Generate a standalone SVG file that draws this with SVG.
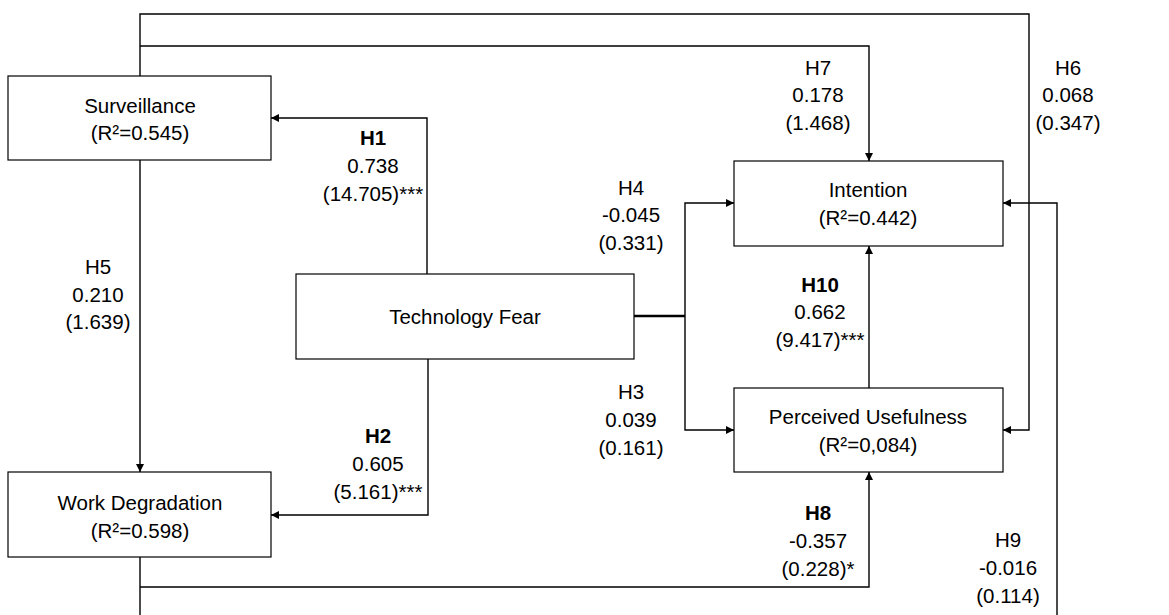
<svg xmlns="http://www.w3.org/2000/svg" width="1169" height="615" viewBox="0 0 1169 615">
<style>
.box{fill:#fff;stroke:#000;stroke-width:1.2}
.t{font-family:"Liberation Sans",Arial,sans-serif;font-size:20.5px;fill:#000;text-anchor:middle}
.b{font-weight:bold}
.c{fill:none;stroke:#000;stroke-width:1.4}
</style>
<defs>
<marker id="a" viewBox="0 0 10 10" refX="10" refY="5" markerWidth="8" markerHeight="8" markerUnits="userSpaceOnUse" orient="auto"><path d="M0,0 L10,5 L0,10 z" fill="#000"/></marker>
</defs>
<rect width="1169" height="615" fill="#fff"/>
<g id="connectors">
<path class="c" d="M140,76 V14 H1029 V430 H1003" marker-end="url(#a)"/>
<path class="c" d="M140,46 H869 V161" marker-end="url(#a)"/>
<path class="c" d="M427,274 V118 H271" marker-end="url(#a)"/>
<path class="c" d="M428,359 V515 H271" marker-end="url(#a)"/>
<path class="c" d="M140,160 V472" marker-end="url(#a)"/>
<path class="c" d="M634,316 H685" style="stroke-width:2.5"/>
<path class="c" d="M685,316 V203 H734" marker-end="url(#a)"/>
<path class="c" d="M685,316 V430 H734" marker-end="url(#a)"/>
<path class="c" d="M869,388 V246" marker-end="url(#a)"/>
<path class="c" d="M140,557 V615"/>
<path class="c" d="M140,587 H869 V472" marker-end="url(#a)"/>
<path class="c" d="M1057,615 V203 H1003" marker-end="url(#a)"/>
</g>
<g id="surveillance">
<rect class="box" x="8" y="76" width="263" height="84"/>
<text class="t" x="140" y="113">Surveillance</text>
<text class="t" x="140" y="140">(R²=0.545)</text>
</g>
<g id="work-degradation">
<rect class="box" x="8" y="472" width="263" height="85"/>
<text class="t" x="140" y="510">Work Degradation</text>
<text class="t" x="140" y="538">(R²=0.598)</text>
</g>
<g id="technology-fear">
<rect class="box" x="296" y="274" width="338" height="85"/>
<text class="t" x="465" y="324">Technology Fear</text>
</g>
<g id="intention">
<rect class="box" x="734" y="161" width="269" height="85"/>
<text class="t" x="868" y="197">Intention</text>
<text class="t" x="868" y="225">(R²=0.442)</text>
</g>
<g id="perceived-usefulness">
<rect class="box" x="734" y="388" width="269" height="84"/>
<text class="t" x="868" y="424">Perceived Usefulness</text>
<text class="t" x="868" y="452">(R²=0,084)</text>
</g>
<g id="labels">
<text class="t b" x="373" y="145">H1</text>
<text class="t" x="373" y="173">0.738</text>
<text class="t" x="373" y="201">(14.705)***</text>
<text class="t b" x="378" y="443">H2</text>
<text class="t" x="378" y="471">0.605</text>
<text class="t" x="378" y="499">(5.161)***</text>
<text class="t" x="631" y="399">H3</text>
<text class="t" x="631" y="427">0.039</text>
<text class="t" x="631" y="455">(0.161)</text>
<text class="t" x="631" y="195">H4</text>
<text class="t" x="631" y="222">-0.045</text>
<text class="t" x="631" y="250">(0.331)</text>
<text class="t" x="98" y="274">H5</text>
<text class="t" x="98" y="302">0.210</text>
<text class="t" x="98" y="329">(1.639)</text>
<text class="t" x="1068" y="75">H6</text>
<text class="t" x="1068" y="102">0.068</text>
<text class="t" x="1068" y="130">(0.347)</text>
<text class="t" x="818" y="75">H7</text>
<text class="t" x="818" y="102">0.178</text>
<text class="t" x="818" y="130">(1.468)</text>
<text class="t b" x="818" y="520">H8</text>
<text class="t" x="818" y="548">-0.357</text>
<text class="t" x="818" y="576">(0.228)*</text>
<text class="t" x="1008" y="547">H9</text>
<text class="t" x="1008" y="575">-0.016</text>
<text class="t" x="1008" y="603">(0.114)</text>
<text class="t b" x="820" y="292">H10</text>
<text class="t" x="820" y="319">0.662</text>
<text class="t" x="820" y="347">(9.417)***</text>
</g>
</svg>
